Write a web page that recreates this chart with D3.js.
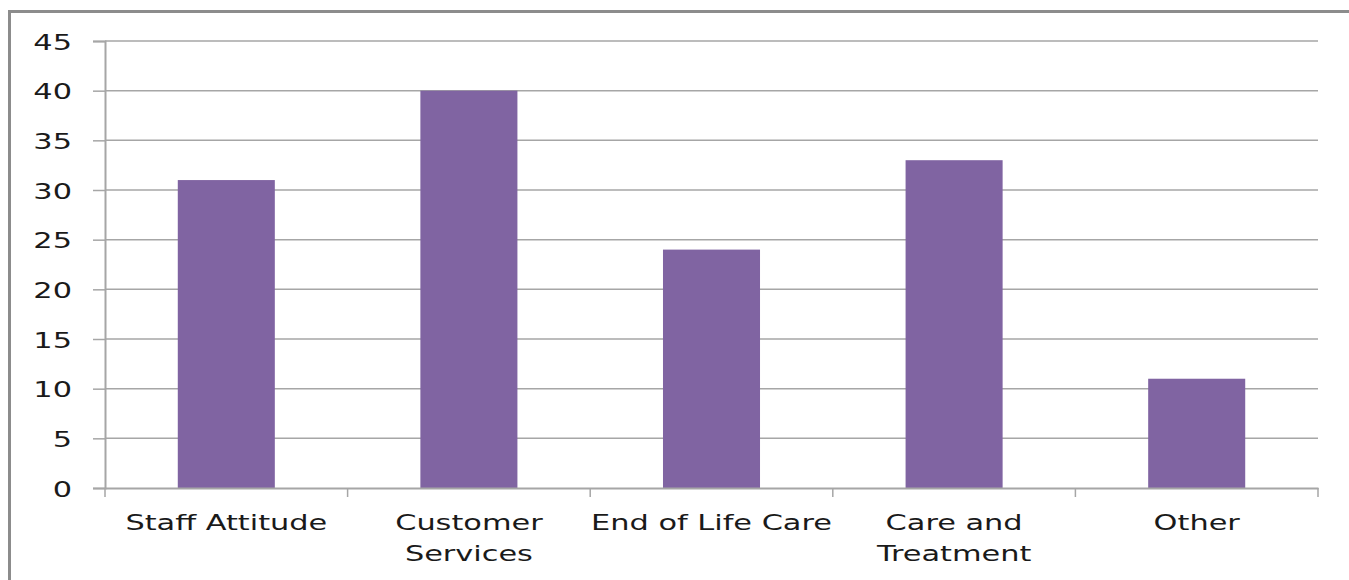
<!DOCTYPE html>
<html><head><meta charset="utf-8">
<script src="https://cdn.jsdelivr.net/npm/d3@7"></script>
<style>body{margin:0;background:#fff;overflow:hidden}</style>
</head><body>
<svg id="c" width="1349" height="580"></svg>
<script>
const categories = [["Staff Attitude"], ["Customer","Services"], ["End of Life Care"], ["Care and","Treatment"], ["Other"]];
const values = [31, 40, 24, 33, 11];
const yTicks = [0, 5, 10, 15, 20, 25, 30, 35, 40, 45];

const svg = d3.select("#c");
const m = {left:105, right:1318, top:41, bottom:488};
const font = "DejaVu Sans, Verdana, sans-serif";
const sx = 1.38;

svg.append("rect").attr("x",9.5).attr("y",11.5).attr("width",1349).attr("height",580)
  .attr("fill","none").attr("stroke","#8c8c8c").attr("stroke-width",3);

const keys = categories.map(c => c.join(" "));
const x = d3.scaleBand().domain(keys).range([m.left, m.right]).paddingInner(0.6).paddingOuter(0.3);
const xb = d3.scaleBand().domain(keys).range([m.left, m.right]);
const y = d3.scaleLinear().domain([0,45]).range([m.bottom, m.top]);

// y axis
const ya = svg.append("g").attr("transform",`translate(${m.left},0)`)
  .call(d3.axisLeft(y).tickValues(yTicks).tickSize(12).tickPadding(0));
ya.select(".domain").attr("stroke","#a6a6a6").attr("stroke-width",2);
ya.selectAll(".tick line").attr("stroke","#a6a6a6").attr("stroke-width",1.5);
ya.selectAll(".tick text").attr("x",null).attr("dy",null)
  .attr("transform",`translate(-33,8) scale(${sx},1)`)
  .attr("font-family",font).attr("font-size",22).attr("fill","#1a1a1a").attr("text-anchor","end");

svg.append("g").selectAll("line").data(yTicks.filter(d=>d>0)).join("line")
  .attr("x1",m.left).attr("x2",m.right).attr("y1",d=>y(d)).attr("y2",d=>y(d))
  .attr("stroke","#a6a6a6").attr("stroke-width",1.5);

// bars
svg.append("g").selectAll("rect").data(values).join("rect")
  .attr("x",(d,i)=>x(keys[i])).attr("width",x.bandwidth())
  .attr("y",d=>y(d)).attr("height",d=>y(0)-y(d))
  .attr("fill","#8064a2");

// x axis
const xa = svg.append("g").attr("transform",`translate(0,${m.bottom})`)
  .call(d3.axisBottom(xb).tickSize(0).tickFormat(""));
xa.select(".domain").attr("stroke","#a6a6a6").attr("stroke-width",2);
svg.append("g").selectAll("line").data(d3.range(keys.length+1)).join("line")
  .attr("x1",i=>m.left+i*xb.step()).attr("x2",i=>m.left+i*xb.step())
  .attr("y1",m.bottom).attr("y2",m.bottom+9)
  .attr("stroke","#a6a6a6").attr("stroke-width",1.5);

const lab = svg.append("g").selectAll("text").data(categories).join("text")
  .attr("transform",(c,i)=>`translate(${xb(keys[i])+xb.bandwidth()/2},530) scale(${sx},1)`)
  .attr("font-family",font).attr("font-size",22).attr("fill","#1a1a1a")
  .attr("text-anchor","middle");
lab.each(function(c){
  const t = d3.select(this);
  c.forEach((line,j)=>{
    t.append("tspan").attr("x",0).attr("y",j*31).text(line);
  });
});
</script>
</body></html>
